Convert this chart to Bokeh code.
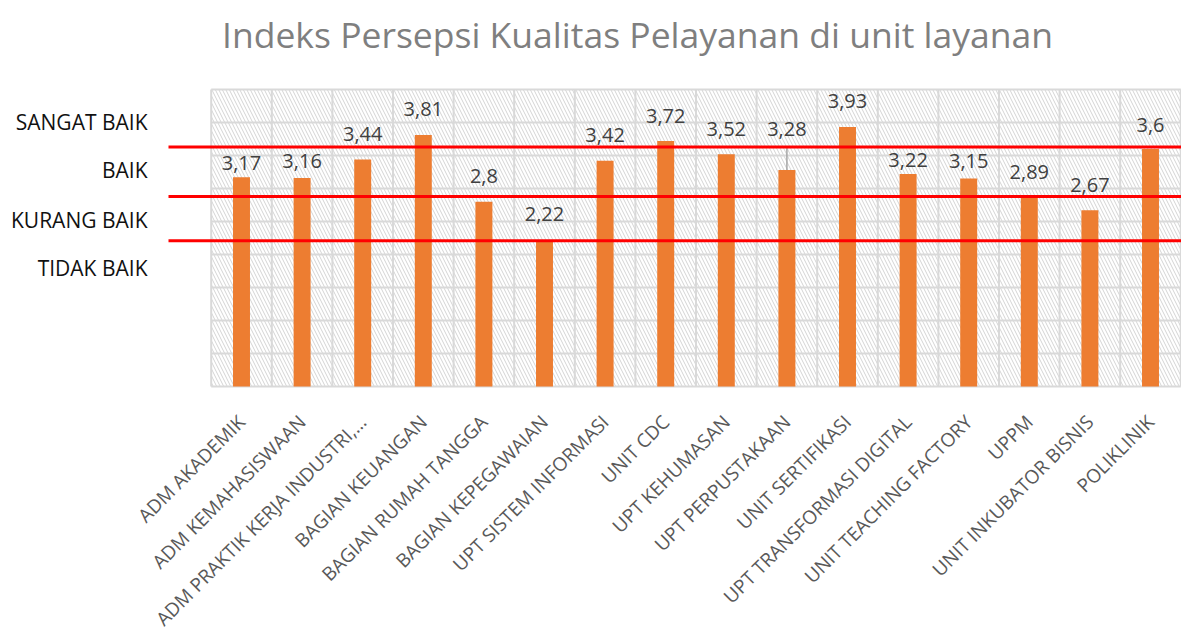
from math import pi
from bokeh.plotting import figure
from bokeh.models import Range1d, ColumnDataSource
from bokeh.core.properties import value
from bokeh.embed import file_html
from bokeh.resources import INLINE

# ---------------- data ----------------
title_text = "Indeks Persepsi Kualitas Pelayanan di unit layanan"
categories = [
    "ADM AKADEMIK", "ADM KEMAHASISWAAN", "ADM PRAKTIK KERJA INDUSTRI,\u2026",
    "BAGIAN KEUANGAN", "BAGIAN RUMAH TANGGA", "BAGIAN KEPEGAWAIAN",
    "UPT SISTEM INFORMASI", "UNIT CDC", "UPT KEHUMASAN", "UPT PERPUSTAKAAN",
    "UNIT SERTIFIKASI", "UPT TRANSFORMASI DIGITAL", "UNIT TEACHING FACTORY",
    "UPPM", "UNIT INKUBATOR BISNIS", "POLIKLINIK",
]
scores = [3.17, 3.16, 3.44, 3.81, 2.80, 2.22, 3.42, 3.72,
          3.52, 3.28, 3.93, 3.22, 3.15, 2.89, 2.67, 3.60]
level_names = ["SANGAT BAIK", "BAIK", "KURANG BAIK", "TIDAK BAIK"]
level_label_y = [4.01, 3.28, 2.53, 1.80]
thresholds = [3.63, 2.88, 2.21]
y_max = 4.5
y_step = 0.5

# ---------------- layout constants (pixels) ----------------
W, H = 1181, 631
PLOT_L, PLOT_R = 210.7, 1180.3      # plot area edges
PLOT_T, PLOT_B = 89.0, 386.0
n = len(categories)
KX = (PLOT_R - PLOT_L) / n          # px per category
KY = (PLOT_B - PLOT_T) / y_max      # px per value unit
X_START = -0.5 - PLOT_L / KX
X_END = X_START + W / KX
Y_END = PLOT_B / KY
Y_START = Y_END - H / KY


def px_to_x(px):
    return X_START + px / KX


def px_to_y(py):
    return (PLOT_B - py) / KY


BAR_W = 0.28
# gap (px) between value-label baseline and bar top
label_gap = [7, 10, 18, 19, 18, 19, 18, 18, 18, 34, 19, 7, 10, 16, 18, 17]
BASE_FIX = 0.37                      # alphabetic baseline correction (x font size)
ORANGE = "#ED7D31"
GRID = "#D9D9D9"
FONT = value("Open Sans")

xs = list(range(n))
score_text = [f"{v:g}".replace(".", ",") for v in scores]

p = figure(width=W, height=H, output_backend="svg", toolbar_location=None,
           x_range=Range1d(X_START, X_END), y_range=Range1d(Y_START, Y_END),
           x_axis_location=None, y_axis_location=None,
           min_border_left=0, min_border_right=0, min_border_top=0,
           min_border_bottom=0)
p.outline_line_color = None
p.xgrid.visible = False
p.ygrid.visible = False
p.background_fill_color = "white"
p.border_fill_color = "white"

# title
p.text(x=[px_to_x(637)], y=[px_to_y(47)], text=[title_text],
       y_offset=[-0.37 * 35.5], text_align="center", text_baseline="alphabetic",
       text_font=FONT, text_font_size="35.5px", text_color="#7F7F7F")

# hatched plot area
p.quad(left=[-0.5], right=[n - 0.5], bottom=[0], top=[y_max],
       fill_color="white", line_color=None,
       hatch_pattern="\\", hatch_color="#D4D4D4", hatch_scale=7, hatch_weight=1)

# grid lines
ylev = [i * y_step for i in range(int(round(y_max / y_step)) + 1)]
p.segment(x0=[-0.5] * len(ylev), x1=[n - 0.5] * len(ylev), y0=ylev, y1=ylev,
          line_color=GRID, line_width=2)
xb = [i - 0.5 for i in range(n + 1)]
p.segment(x0=xb, x1=xb, y0=[0] * len(xb), y1=[y_max] * len(xb),
          line_color=GRID, line_width=2)

# bars
src = ColumnDataSource(dict(x=xs, top=scores, txt=score_text, cat=categories,
                            zero=[0] * n,
                            yoff=[-(g + BASE_FIX * 20) for g in label_gap]))
p.vbar(x="x", top="top", width=BAR_W, bottom=0, source=src,
       fill_color=ORANGE, line_color=None)

# leader line for raised labels
lx = [xs[i] for i in range(n) if label_gap[i] > 25]
ly0 = [scores[i] for i in range(n) if label_gap[i] > 25]
ly1 = [scores[i] + (label_gap[i] - 12) / KY for i in range(n) if label_gap[i] > 25]
p.segment(x0=lx, x1=lx, y0=ly0, y1=ly1, line_color="#A6A6A6", line_width=1.5)

# threshold lines
p.segment(x0=[px_to_x(168)] * len(thresholds), x1=[X_END] * len(thresholds),
          y0=thresholds, y1=thresholds, line_color="#FF0000", line_width=3)

# value labels
p.text(x="x", y="top", text="txt", y_offset="yoff", source=src,
       text_align="center", text_baseline="alphabetic",
       text_font=FONT, text_font_size="20px", text_color="#404040")

# category level labels (left)
p.text(x=[px_to_x(147)] * len(level_names), y=level_label_y, text=level_names,
       text_align="right", text_baseline="middle",
       text_font=FONT, text_font_size="21px", text_color="#111111")

# category labels (rotated 45 degrees, ending under each bar)
p.text(x="x", y="zero", text="cat", source=src, angle=pi / 4, y_offset=32,
       text_align="right", text_baseline="middle",
       text_font=FONT, text_font_size="19px", text_color="#595959")

open("out.html", "w").write(file_html(p, INLINE))
